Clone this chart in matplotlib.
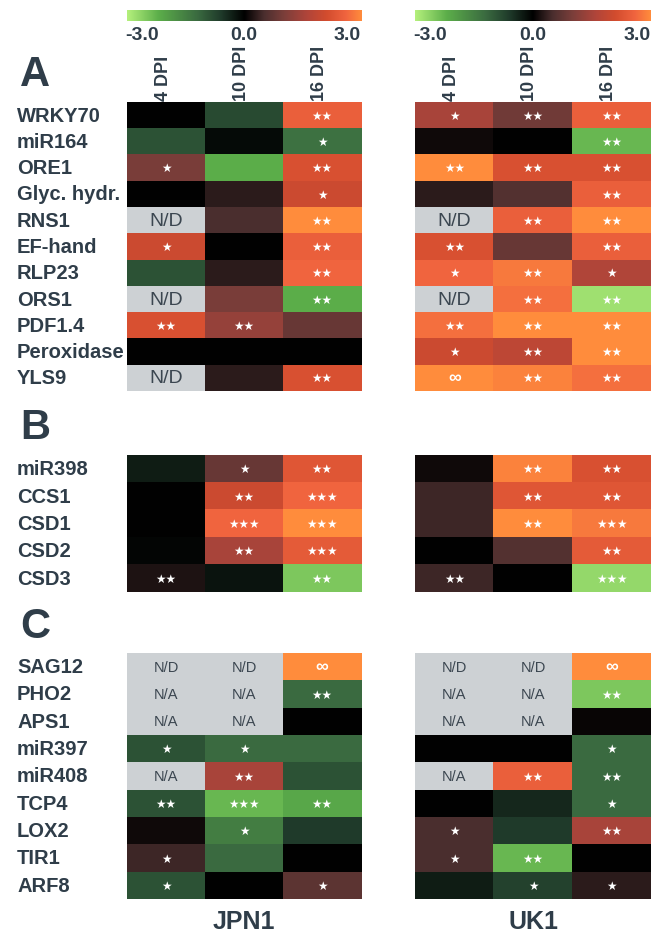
import numpy as np
import matplotlib.pyplot as plt
from matplotlib.colors import LinearSegmentedColormap

W, H = 663, 937
nan = np.nan

dpi_labels = ['4 DPI', '10 DPI', '16 DPI']
strains = ['JPN1', 'UK1']

# section A
genes_a = ['WRKY70', 'miR164', 'ORE1', 'Glyc. hydr.', 'RNS1', 'EF-hand',
           'RLP23', 'ORS1', 'PDF1.4', 'Peroxidase', 'YLS9']
jpn1_a = [[0.0, -0.8, 2.5],
          [-0.9, -0.1, -1.3],
          [1.0, -2.2, 2.2],
          [0.0, 0.3, 2.0],
          [nan, 0.5, 3.0],
          [2.0, 0.0, 2.5],
          [-0.9, 0.3, 2.6],
          [nan, 1.0, -2.2],
          [2.2, 1.3, 0.8],
          [0.0, 0.0, 0.0],
          [nan, 0.3, 2.2]]
jpn1_a_sig = [['', '', '**'],
              ['', '', '*'],
              ['*', '', '**'],
              ['', '', '*'],
              ['N/D', '', '**'],
              ['*', '', '**'],
              ['', '', '**'],
              ['N/D', '', '**'],
              ['**', '**', ''],
              ['', '', ''],
              ['N/D', '', '**']]
uk1_a = [[1.5, 0.9, 2.5],
         [0.1, 0.0, -2.3],
         [3.0, 2.2, 2.2],
         [0.3, 0.6, 2.5],
         [nan, 2.5, 3.0],
         [2.2, 0.8, 2.5],
         [2.6, 2.8, 1.6],
         [nan, 2.7, -2.8],
         [2.7, 3.0, 3.0],
         [2.0, 1.8, 3.0],
         [3.0, 2.9, 2.7]]
uk1_a_sig = [['*', '**', '**'],
             ['', '', '**'],
             ['**', '**', '**'],
             ['', '', '**'],
             ['N/D', '**', '**'],
             ['**', '', '**'],
             ['*', '**', '*'],
             ['N/D', '**', '**'],
             ['**', '**', '**'],
             ['*', '**', '**'],
             ['inf', '**', '**']]

# section B
genes_b = ['miR398', 'CCS1', 'CSD1', 'CSD2', 'CSD3']
jpn1_b = [[-0.3, 0.8, 2.3],
          [0.0, 2.0, 2.6],
          [0.0, 2.6, 3.0],
          [-0.05, 1.5, 2.4],
          [0.2, -0.2, -2.5]]
jpn1_b_sig = [['', '*', '**'],
              ['', '**', '***'],
              ['', '***', '***'],
              ['', '**', '***'],
              ['**', '', '**']]
uk1_b = [[0.1, 2.9, 2.2],
         [0.4, 2.3, 2.3],
         [0.4, 3.0, 2.8],
         [0.0, 0.6, 2.4],
         [0.4, 0.0, -2.7]]
uk1_b_sig = [['', '**', '**'],
             ['', '**', '**'],
             ['', '**', '***'],
             ['', '', '**'],
             ['**', '', '***']]

# section C
genes_c = ['SAG12', 'PHO2', 'APS1', 'miR397', 'miR408', 'TCP4', 'LOX2',
           'TIR1', 'ARF8']
jpn1_c = [[nan, nan, 3.0],
          [nan, nan, -1.2],
          [nan, nan, 0.0],
          [-0.9, -1.2, -1.2],
          [nan, 1.5, -0.9],
          [-0.9, -2.3, -2.1],
          [0.1, -1.5, -0.6],
          [0.4, -1.2, 0.0],
          [-0.9, 0.0, 0.7]]
jpn1_c_sig = [['N/D', 'N/D', 'inf'],
              ['N/A', 'N/A', '**'],
              ['N/A', 'N/A', ''],
              ['*', '*', ''],
              ['N/A', '**', ''],
              ['**', '***', '**'],
              ['', '*', ''],
              ['*', '', ''],
              ['*', '', '*']]
uk1_c = [[nan, nan, 3.0],
         [nan, nan, -2.5],
         [nan, nan, 0.05],
         [0.0, 0.0, -1.2],
         [nan, 2.5, -1.2],
         [0.0, -0.4, -1.2],
         [0.5, -0.6, 1.5],
         [0.5, -2.3, 0.0],
         [-0.3, -0.7, 0.3]]
uk1_c_sig = [['N/D', 'N/D', 'inf'],
             ['N/A', 'N/A', '**'],
             ['N/A', 'N/A', ''],
             ['', '', '*'],
             ['N/A', '**', '**'],
             ['', '', '*'],
             ['*', '', '**'],
             ['*', '**', ''],
             ['', '*', '*']]

cmap = LinearSegmentedColormap.from_list('gbo', [
    (0.0, '#b4f07c'), (0.133, '#5cae4a'), (0.3, '#3a6a40'), (0.4, '#1f3a2a'),
    (0.5, '#000000'), (0.583, '#4a2e2e'), (0.667, '#7a3e3a'),
    (0.767, '#b0453a'), (0.85, '#d24c2e'), (0.933, '#f0643f'),
    (1.0, '#ff8c3c')])
cmap.set_bad('#cdd1d4')

text_col = '#2f3d49'
plt.rcParams['font.family'] = ['Liberation Sans', 'DejaVu Sans']

fig = plt.figure(figsize=(W / 100, H / 100), dpi=100)


def px_axes(x0, y0, x1, y1):
    return fig.add_axes([x0 / W, 1 - y1 / H, (x1 - x0) / W, (y1 - y0) / H])


def ftext(x, y, s, **kw):
    fig.text(x / W, 1 - y / H, s, **kw)


panel_x = [(127, 361), (415, 651)]
sections = [
    ('A', genes_a, [(jpn1_a, jpn1_a_sig), (uk1_a, uk1_a_sig)], 103, 392, 75, 14),
    ('B', genes_b, [(jpn1_b, jpn1_b_sig), (uk1_b, uk1_b_sig)], 456, 593, 428, 11),
    ('C', genes_c, [(jpn1_c, jpn1_c_sig), (uk1_c, uk1_c_sig)], 654, 900, 627, 10.5),
]

for letter, genes, panels, top, bot, ly, na_fs in sections:
    ftext(20, ly, letter, fontsize=30, fontweight='bold', color=text_col,
          va='center', ha='left')
    rh = (bot - top) / len(genes)
    for i, g in enumerate(genes):
        ftext(17, top + (i + 0.5) * rh, g, fontsize=14.5, fontweight='bold',
              color=text_col, va='center', ha='left')
    for (x0, x1), (vals, sig) in zip(panel_x, panels):
        ax = px_axes(x0, top, x1, bot)
        data = np.ma.masked_invalid(np.array(vals, dtype=float))
        ax.imshow(data, cmap=cmap, vmin=-3, vmax=3, aspect='auto',
                  interpolation='nearest')
        ax.set_xticks([])
        ax.set_yticks([])
        for s in ax.spines.values():
            s.set_visible(False)
        for i, row in enumerate(sig):
            for j, m in enumerate(row):
                if m in ('N/D', 'N/A'):
                    ax.text(j, i, m, ha='center', va='center', color='#3b4650',
                            fontsize=na_fs)
                elif m == 'inf':
                    ax.text(j, i, '\u221e', ha='center', va='center',
                            color='white', fontsize=13, fontweight='bold')
                elif m:
                    ax.text(j, i, '\u2605' * len(m), ha='center', va='center',
                            color='white', fontsize=8.5, family='DejaVu Sans')

# column labels and colorbars
for (x0, x1), name in zip(panel_x, strains):
    cax = px_axes(x0, 11, x1, 22)
    cax.imshow(np.linspace(-3, 3, 256)[None, :], cmap=cmap, aspect='auto',
               vmin=-3, vmax=3)
    cax.axis('off')
    ftext(x0 - 2, 35, '-3.0', fontsize=14, fontweight='bold', color=text_col,
          ha='left', va='center')
    ftext((x0 + x1) / 2, 35, '0.0', fontsize=14, fontweight='bold',
          color=text_col, ha='center', va='center')
    ftext(x1, 35, '3.0', fontsize=14, fontweight='bold', color=text_col,
          ha='right', va='center')
    cw = (x1 - x0) / 3
    for j, lab in enumerate(dpi_labels):
        ftext(x0 + (j + 0.5) * cw - 3, 101, lab, fontsize=13, fontweight='bold',
              color=text_col, rotation=90, ha='center', va='bottom')
    ftext((x0 + x1) / 2, 922, name, fontsize=18, fontweight='bold',
          color=text_col, ha='center', va='center')

fig.savefig('out.png', dpi=100)
